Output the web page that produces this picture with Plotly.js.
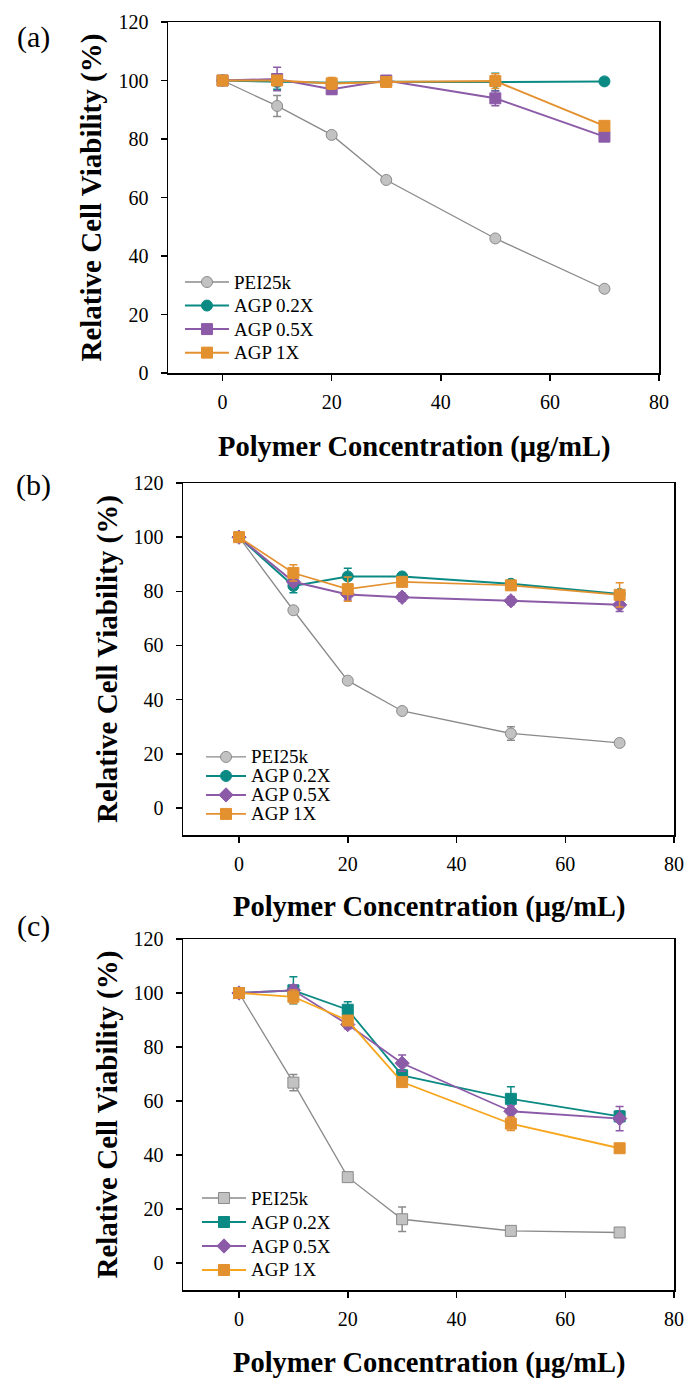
<!DOCTYPE html>
<html><head><meta charset="utf-8">
<script src="https://cdn.plot.ly/plotly-3.0.1.min.js"></script>
<style>
body{margin:0;padding:0;background:#fff;width:688px;height:1379px;overflow:hidden;position:relative}
.p{position:absolute;left:0;width:688px}
</style></head><body>
<div id="pa" class="p" style="top:0;height:470px"></div>
<div id="pb" class="p" style="top:440px;height:496px"></div>
<div id="pc" class="p" style="top:895px;height:484px"></div>
<script>
// ---- shared ----
const concentrations = [0, 10, 20, 30, 50, 70];
const seriesNames = ['PEI25k', 'AGP 0.2X', 'AGP 0.5X', 'AGP 1X'];
const xTickVals = [0, 20, 40, 60, 80];
const yTickVals = [0, 20, 40, 60, 80, 100, 120];
const panelLabels = ['(a)', '(b)', '(c)'];
const xTitle = 'Polymer Concentration (μg/mL)';
const yTitle = 'Relative Cell Viability (%)';

// ---- panel (a) ----
const aPEI      = [100, 91.3, 81.4, 66.0, 46.0, 28.8];
const aPEIErr   = [0.8, 3.6, 1.0, 0.8, 1.0, 1.0];
const aAGP02    = [100, 99.5, 99.2, 99.6, 99.5, 99.7];
const aAGP02Err = [0.5, 2.5, 1.0, 0.8, 3.0, 1.0];
const aAGP05    = [100, 100.5, 97.0, 100.0, 93.9, 80.8];
const aAGP05Err = [0.5, 4.0, 1.5, 0.8, 2.5, 1.5];
const aAGP1     = [100, 100.0, 99.0, 99.5, 99.8, 84.5];
const aAGP1Err  = [0.5, 1.5, 2.0, 0.8, 2.5, 1.5];

// ---- panel (b) ----
const bPEI      = [100, 73.0, 47.0, 35.8, 27.5, 24.0];
const bPEIErr   = [0.5, 1.0, 1.0, 1.0, 2.5, 1.0];
const bAGP02    = [100, 82.0, 85.5, 85.5, 82.8, 79.0];
const bAGP02Err = [0.5, 2.5, 3.0, 1.0, 1.5, 1.0];
const bAGP05    = [100, 83.5, 78.8, 77.8, 76.5, 75.0];
const bAGP05Err = [0.5, 1.5, 2.0, 1.5, 1.5, 2.5];
const bAGP1     = [100, 86.8, 80.8, 83.5, 82.2, 78.7];
const bAGP1Err  = [0.5, 3.0, 4.5, 1.0, 1.5, 4.5];

// ---- panel (c) ----
const cPEI      = [100, 66.8, 31.8, 16.2, 11.9, 11.3];
const cPEIErr   = [0.5, 3.0, 1.0, 4.5, 1.0, 1.0];
const cAGP02    = [100, 101.0, 93.8, 69.5, 60.8, 54.3];
const cAGP02Err = [0.5, 5.0, 3.0, 2.0, 4.5, 2.0];
const cAGP05    = [100, 101.0, 88.3, 74.0, 56.2, 53.5];
const cAGP05Err = [0.5, 2.0, 1.5, 3.0, 2.0, 4.5];
const cAGP1     = [100, 98.6, 89.8, 67.0, 51.6, 42.5];
const cAGP1Err  = [0.5, 2.5, 1.5, 1.5, 2.5, 1.5];

const serif = 'Liberation Serif, Times New Roman, serif';
const colors = ['#8a8a8a', '#0b8a84', '#8c5ba8', '#e3902f'];
const fills  = ['#c2c2c2', '#0b8a84', '#8c5ba8', '#e3902f'];

function makeTraces(vals, errs, symbols, lineColors, widths) {
  return vals.map((v, i) => ({
    type: 'scatter', mode: 'lines+markers', name: seriesNames[i],
    x: concentrations, y: v,
    error_y: {type: 'data', array: errs[i], visible: true, color: colors[i], thickness: 1.5, width: 4},
    line: {color: lineColors[i], width: widths[i]},
    marker: {symbol: symbols[i], size: 11, color: fills[i], line: {color: colors[i], width: 1}}
  }));
}

function makeLayout(o) {
  const axisBase = {
    ticks: 'outside', ticklen: 6, tickwidth: 1.5, tickcolor: '#000',
    showline: true, linecolor: '#000', linewidth: 1.5, mirror: true,
    showgrid: false, zeroline: false,
    tickfont: {family: serif, size: 20, color: '#000'}
  };
  return {
    width: 688, height: o.height,
    margin: {l: o.l, r: o.r, t: o.t, b: o.b, pad: 0},
    paper_bgcolor: 'rgba(0,0,0,0)', plot_bgcolor: '#fff',
    xaxis: Object.assign({}, axisBase, {range: o.xr, tickvals: xTickVals, ticklabelstandoff: 4}),
    yaxis: Object.assign({}, axisBase, {range: o.yr, tickvals: yTickVals, ticklabelstandoff: 8}),
    showlegend: true,
    legend: {x: o.lx, y: o.ly, xanchor: 'left', yanchor: 'top', bgcolor: 'rgba(0,0,0,0)',
             borderwidth: 0, itemwidth: o.iw, font: {family: serif, size: o.lfs, color: '#000'}},
    annotations: [
      {text: xTitle, xref: 'paper', yref: 'paper', x: 0.5, y: 0, yshift: o.xts, xanchor: 'center', yanchor: 'middle',
       showarrow: false, font: {family: serif, size: 28.5, weight: 'bold', color: '#000'}},
      {text: yTitle, xref: 'paper', yref: 'paper', x: 0, y: 0.5, xshift: o.yts, xanchor: 'center', yanchor: 'middle',
       textangle: -90, showarrow: false, font: {family: serif, size: 29, weight: 'bold', color: '#000'}},
      {text: o.label, xref: 'paper', yref: 'paper', x: 0, y: 1, xshift: o.lbx, yshift: o.lby, xanchor: 'center', yanchor: 'middle',
       showarrow: false, font: {family: serif, size: 30, color: '#000'}}
    ]
  };
}

function fixLegend(gd) {
  gd.querySelectorAll('.legendtext').forEach(t => {
    t.style.fontSize = '19px';
    t.setAttribute('y', '6.5');
  });
  gd.querySelectorAll('[clip-path]').forEach(el => {
    if (el.closest('.legend')) el.removeAttribute('clip-path');
  });
}

const cfg = {staticPlot: true, displayModeBar: false};

const panels = [
  {id: 'pa', vals: [aPEI, aAGP02, aAGP05, aAGP1], errs: [aPEIErr, aAGP02Err, aAGP05Err, aAGP1Err],
   symbols: ['circle', 'circle', 'square', 'square'], lineColors: colors, widths: [1.3, 2, 2, 2],
   lay: {height: 470, l: 168, r: 29, t: 22, b: 97, xr: [-10, 80], yr: [0, 120],
         lx: 0.0244, ly: 0.307, iw: 44, lfs: 15.8, xts: -74, yts: -77, label: panelLabels[0], lbx: -135, lby: -15}},
  {id: 'pb', vals: [bPEI, bAGP02, bAGP05, bAGP1], errs: [bPEIErr, bAGP02Err, bAGP05Err, bAGP1Err],
   symbols: ['circle', 'circle', 'diamond', 'square'], lineColors: colors, widths: [1.3, 2, 2, 1.6],
   lay: {height: 496, l: 183, r: 14, t: 43, b: 101, xr: [-10.3, 80], yr: [-10, 120],
         lx: 0.0367, ly: 0.263, iw: 40, lfs: 12, xts: -72, yts: -76, label: panelLabels[1], lbx: -150, lby: -2}},
  {id: 'pc', vals: [cPEI, cAGP02, cAGP05, cAGP1], errs: [cPEIErr, cAGP02Err, cAGP05Err, cAGP1Err],
   symbols: ['square', 'square', 'diamond', 'square'], lineColors: ['#8a8a8a', '#0b8a84', '#8c5ba8', '#f7a51c'], widths: [1.3, 1.8, 1.8, 1.8],
   lay: {height: 484, l: 183, r: 14, t: 44, b: 89, xr: [-10.3, 80], yr: [-10, 120],
         lx: 0.0285, ly: 0.3105, iw: 44, lfs: 16.15, xts: -73, yts: -76, label: panelLabels[2], lbx: -150, lby: 13}}
];

panels.forEach(p => {
  const gd = document.getElementById(p.id);
  Plotly.newPlot(gd, makeTraces(p.vals, p.errs, p.symbols, p.lineColors, p.widths), makeLayout(p.lay), cfg)
    .then(() => fixLegend(gd));
});
</script>
</body></html>
